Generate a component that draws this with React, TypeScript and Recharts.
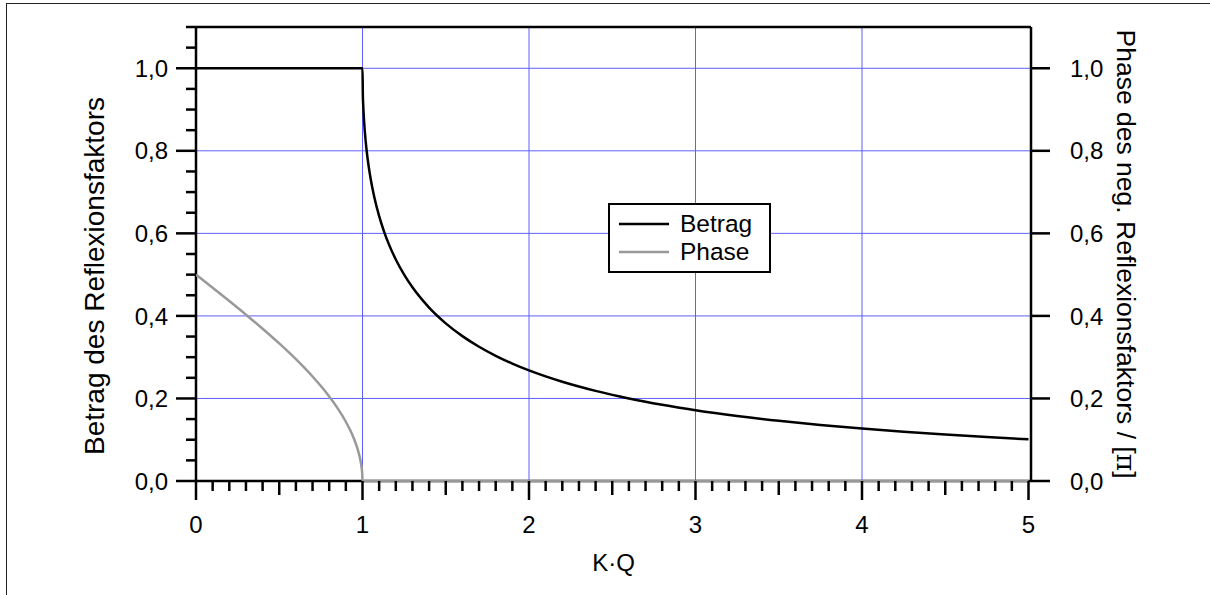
import React from "react";
import { LineChart, Line, XAxis, YAxis, ReferenceLine, Legend } from "recharts";

const FONT = "'Liberation Sans', Arial, Helvetica, sans-serif";

// Betrag (magnitude) of the reflection factor vs K·Q
const betragX = [0, 1, 1.002, 1.005, 1.01, 1.02, 1.03, 1.04, 1.05, 1.07, 1.1, 1.13, 1.16, 1.2, 1.25, 1.3, 1.4, 1.5, 1.6, 1.7, 1.8, 1.9, 2.0, 2.2, 2.4, 2.6, 2.8, 3.0, 3.25, 3.5, 3.75, 4.0, 4.25, 4.5, 4.75, 5.0];
const betragY = [1.0, 1.0, 0.9367, 0.9048, 0.8682, 0.8190, 0.7832, 0.7543, 0.7298, 0.6893, 0.6417, 0.6038, 0.5721, 0.5367, 0.5, 0.4693, 0.4202, 0.382, 0.3510, 0.3252, 0.3033, 0.2845, 0.2679, 0.2404, 0.2183, 0.2, 0.1847, 0.1716, 0.1577, 0.1459, 0.1358, 0.1270, 0.1193, 0.1125, 0.1065, 0.1010];

// Phase of the negative reflection factor / π
const phaseX = [0, 0.1, 0.2, 0.3, 0.4, 0.5, 0.6, 0.7, 0.75, 0.8, 0.85, 0.9, 0.93, 0.95, 0.97, 0.98, 0.99, 0.995, 0.998, 1.0, 5.0];
const phaseY = [0.5, 0.4681, 0.4359, 0.403, 0.369, 0.3333, 0.2952, 0.2532, 0.2300, 0.2048, 0.1766, 0.1436, 0.1198, 0.1011, 0.0782, 0.0638, 0.0450, 0.0318, 0.0201, 0.0, 0.0];

const xTicks = Array.from({ length: 51 }, (_, i) => i / 10);
const yLeftTicks = Array.from({ length: 23 }, (_, i) => i / 20);
const yRightTicks = [0, 0.2, 0.4, 0.6, 0.8, 1.0];
const gridX = [1, 2, 3, 4];
const gridY = [0.2, 0.4, 0.6, 0.8, 1.0];
const X_MAX = 5.015;
const Y_MAX = 1.1;

const betragData = betragX.map((x, i) => ({ x, y: betragY[i] }));
const phaseData = phaseX.map((x, i) => ({ x, y: phaseY[i] }));

const fmt = (v: number) => v.toFixed(1).replace(".", ",");
const near = (a: number, b: number) => Math.abs(a - b) < 1e-6;

const XTick = (props: any) => {
  const { x, y, payload } = props;
  const v = payload.value as number;
  const major = near(v, Math.round(v));
  const half = near(v * 2, Math.round(v * 2));
  const len = major ? 19 : half ? 14 : 10;
  return (
    <g>
      <line x1={x} x2={x} y1={y} y2={y + len} stroke="#000" strokeWidth={2.5} />
      {major && (
        <text x={x} y={y + 52} textAnchor="middle" fontFamily={FONT} fontSize={24} fill="#000">
          {String(Math.round(v))}
        </text>
      )}
    </g>
  );
};

const YLeftTick = (props: any) => {
  const { x, y, payload } = props;
  const v = payload.value as number;
  const major = near(v * 5, Math.round(v * 5)) && v < 1.01;
  const len = major ? 20 : 10;
  return (
    <g>
      <line x1={x} x2={x - len} y1={y} y2={y} stroke="#000" strokeWidth={2.5} />
      {major && (
        <text x={x - 28} y={y} dy="0.36em" textAnchor="end" fontFamily={FONT} fontSize={24} fill="#000">
          {fmt(v)}
        </text>
      )}
    </g>
  );
};

const YRightTick = (props: any) => {
  const { x, y, payload } = props;
  const v = payload.value as number;
  return (
    <g>
      <line x1={x} x2={x + 19} y1={y} y2={y} stroke="#000" strokeWidth={2.5} />
      <text x={x + 39} y={y} dy="0.36em" textAnchor="start" fontFamily={FONT} fontSize={24} fill="#000">
        {fmt(v)}
      </text>
    </g>
  );
};

const renderLegend = () => (
  <svg width={163} height={70} style={{ display: "block" }}>
    <rect x={1} y={1} width={161} height={68} fill="#fff" stroke="#000" strokeWidth={2} />
    <line x1={11} x2={61} y1={21} y2={21} stroke="#000" strokeWidth={2.5} />
    <line x1={11} x2={61} y1={49} y2={49} stroke="#999" strokeWidth={2.5} />
    <text x={72} y={29} fontFamily={FONT} fontSize={24.5} fill="#000">Betrag</text>
    <text x={72} y={57} fontFamily={FONT} fontSize={24.5} fill="#000">Phase</text>
  </svg>
);

export default function App() {
  return (
    <div style={{ position: "relative", width: 1210, height: 595, overflow: "hidden", background: "#fff" }}>
      <style>{"body{margin:0;overflow:hidden;background:#fff}"}</style>
      <div
        style={{
          position: "absolute",
          left: 6,
          top: 3,
          width: 1300,
          height: 700,
          borderLeft: "1.5px solid #222",
          borderTop: "1.5px solid #222",
          pointerEvents: "none",
        }}
      />
      <LineChart width={1210} height={595} margin={{ top: 27, right: 79, bottom: 54, left: 96 }}>
        <XAxis
          type="number"
          dataKey="x"
          domain={[0, X_MAX]}
          ticks={xTicks}
          interval={0}
          tick={XTick}
          tickLine={false}
          tickSize={0}
          tickMargin={0}
          axisLine={false}
          height={60}
          label={{
            content: () => (
              <text x={613.5} y={571} textAnchor="middle" fontFamily={FONT} fontSize={24} fill="#000">
                K·Q
              </text>
            ),
          }}
        />
        <YAxis
          yAxisId="left"
          type="number"
          domain={[0, Y_MAX]}
          ticks={yLeftTicks}
          interval={0}
          tick={YLeftTick}
          tickLine={false}
          tickSize={0}
          tickMargin={0}
          axisLine={false}
          width={100}
          label={{
            content: () => (
              <text
                x={0}
                y={0}
                transform="translate(104,276) rotate(-90)"
                textAnchor="middle"
                fontFamily={FONT}
                fontSize={28}
                fill="#000"
              >
                Betrag des Reflexionsfaktors
              </text>
            ),
          }}
        />
        <YAxis
          yAxisId="right"
          orientation="right"
          type="number"
          domain={[0, Y_MAX]}
          ticks={yRightTicks}
          interval={0}
          tick={YRightTick}
          tickLine={false}
          tickSize={0}
          tickMargin={0}
          axisLine={false}
          width={100}
          label={{
            content: () => (
              <text
                x={0}
                y={0}
                transform="translate(1117,254) rotate(90)"
                textAnchor="middle"
                fontFamily={FONT}
                fontSize={26.5}
                fill="#000"
              >
                Phase des neg. Reflexionsfaktors  / [<tspan fontFamily="'DejaVu Serif', 'Liberation Serif', serif">π</tspan>]
              </text>
            ),
          }}
        />
        {gridX.map((g) => (
          <ReferenceLine key={"gx" + g} x={g} yAxisId="left" stroke="#5f5fff" strokeWidth={1} />
        ))}
        {gridY.map((g) => (
          <ReferenceLine key={"gy" + g} y={g} yAxisId="left" stroke="#5f5fff" strokeWidth={1} />
        ))}
        <ReferenceLine y={Y_MAX} yAxisId="left" stroke="#000" strokeWidth={2.5} />
        <ReferenceLine y={0} yAxisId="left" stroke="#000" strokeWidth={2.5} />
        <ReferenceLine x={0} yAxisId="left" stroke="#000" strokeWidth={2.5} />
        <ReferenceLine x={X_MAX} yAxisId="left" stroke="#000" strokeWidth={2.5} />
        <Line
          data={betragData}
          dataKey="y"
          yAxisId="left"
          type="monotone"
          stroke="#000"
          strokeWidth={2.5}
          dot={false}
          isAnimationActive={false}
          name="Betrag"
        />
        <Line
          data={phaseData}
          dataKey="y"
          yAxisId="right"
          type="monotone"
          stroke="#999"
          strokeWidth={2.5}
          dot={false}
          isAnimationActive={false}
          name="Phase"
        />
        <Legend
          layout="vertical"
          align="center"
          verticalAlign="middle"
          content={renderLegend}
          wrapperStyle={{ left: 608, top: 203, width: 163, height: 70 }}
        />
      </LineChart>
    </div>
  );
}
